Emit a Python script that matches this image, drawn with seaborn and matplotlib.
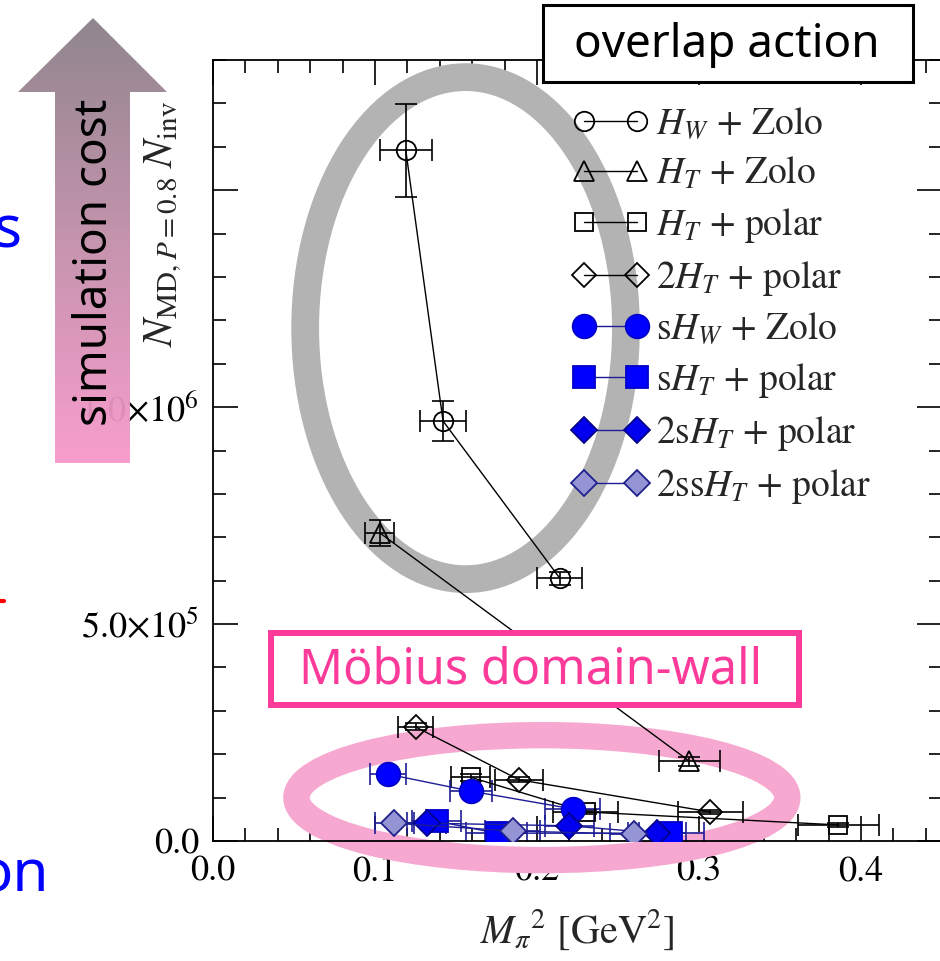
import matplotlib
matplotlib.use("Agg")
import matplotlib.pyplot as plt
import numpy as np, pandas as pd
import seaborn as sns
from matplotlib.patches import Ellipse, Rectangle, Polygon
from matplotlib.colors import LinearSegmentedColormap

# --- data (x = M_pi^2 [GeV^2], y = N_MD * N_inv) ---
hw_zolo_x = [0.119, 0.142, 0.214]
hw_zolo_y = [1.592e6, 0.968e6, 0.606e6]
hw_zolo_xerr = [0.016, 0.014, 0.014]
hw_zolo_yerr = [1.07e5, 4.7e4, 1.5e4]

ht_zolo_x = [0.103, 0.294]
ht_zolo_y = [7.10e5, 1.84e5]
ht_zolo_xerr = [0.009, 0.019]
ht_zolo_yerr = [3.0e4, 1.0e4]

ht_polar_x = [0.159, 0.230, 0.386]
ht_polar_y = [1.47e5, 6.7e4, 3.7e4]
ht_polar_xerr = [0.012, 0.020, 0.025]
ht_polar_yerr = [8e3, 5e3, 4e3]

h2t_polar_x = [0.125, 0.189, 0.307]
h2t_polar_y = [2.63e5, 1.41e5, 6.7e4]
h2t_polar_xerr = [0.011, 0.015, 0.020]
h2t_polar_yerr = [8e3, 6e3, 5e3]

shw_zolo_x = [0.108, 0.159, 0.222]
shw_zolo_y = [1.54e5, 1.15e5, 7.4e4]
shw_zolo_xerr = [0.011, 0.013, 0.017]
shw_zolo_yerr = [6e3, 5e3, 4e3]

sht_polar_x = [0.138, 0.175, 0.283]
sht_polar_y = [4.6e4, 1.8e4, 1.8e4]
sht_polar_xerr = [0.015, 0.019, 0.020]
sht_polar_yerr = [3e3, 2e3, 2e3]

s2ht_polar_x = [0.132, 0.220, 0.274]
s2ht_polar_y = [4.1e4, 3.5e4, 1.8e4]
s2ht_polar_xerr = [0.012, 0.015, 0.018]
s2ht_polar_yerr = [3e3, 3e3, 2e3]

ss2ht_polar_x = [0.112, 0.185, 0.260]
ss2ht_polar_y = [4.1e4, 2.3e4, 1.6e4]
ss2ht_polar_xerr = [0.012, 0.017, 0.015]
ss2ht_polar_yerr = [3e3, 2e3, 2e3]

labels = [r"$H_W$ + Zolo", r"$H_T$ + Zolo", r"$H_T$ + polar", r"2$H_T$ + polar",
          r"s$H_W$ + Zolo", r"s$H_T$ + polar", r"2s$H_T$ + polar", r"2ss$H_T$ + polar"]

xticks = [0.0, 0.1, 0.2, 0.3, 0.4]
xticklabels = ["0.0", "0.1", "0.2", "0.3", "0.4"]
yticks = [0.0, 5e5, 1e6, 1.5e6]
yticklabels = ["0.0", r"$5.0{\times}10^5$", r"$1.0{\times}10^6$", ""]

series = [
    (hw_zolo_x, hw_zolo_y, hw_zolo_xerr, hw_zolo_yerr),
    (ht_zolo_x, ht_zolo_y, ht_zolo_xerr, ht_zolo_yerr),
    (ht_polar_x, ht_polar_y, ht_polar_xerr, ht_polar_yerr),
    (h2t_polar_x, h2t_polar_y, h2t_polar_xerr, h2t_polar_yerr),
    (shw_zolo_x, shw_zolo_y, shw_zolo_xerr, shw_zolo_yerr),
    (sht_polar_x, sht_polar_y, sht_polar_xerr, sht_polar_yerr),
    (s2ht_polar_x, s2ht_polar_y, s2ht_polar_xerr, s2ht_polar_yerr),
    (ss2ht_polar_x, ss2ht_polar_y, ss2ht_polar_xerr, ss2ht_polar_yerr),
]

navy = "#1c1c96"
styles = [
    dict(marker="o", ms=14, mfc="none", mec="k", color="k"),
    dict(marker="^", ms=14, mfc="none", mec="k", color="k"),
    dict(marker="s", ms=13, mfc="none", mec="k", color="k"),
    dict(marker="D", ms=12, mfc="none", mec="k", color="k"),
    dict(marker="o", ms=17, mfc="#0000ff", mec="#0000c8", color=navy),
    dict(marker="s", ms=16, mfc="#0000ff", mec="#0000c8", color=navy),
    dict(marker="D", ms=13, mfc="#0000ee", mec="#00008c", color=navy),
    dict(marker="D", ms=13, mfc="#9494d4", mec="#20208c", color=navy),
]

sns.set_style("ticks")
plt.rcParams["font.family"] = ["STIXGeneral", "DejaVu Sans"]
plt.rcParams["mathtext.fontset"] = "stix"

fig = plt.figure(figsize=(9.4, 9.61), dpi=100)
ax = fig.add_axes([213 / 940, 120 / 961, 729 / 940, 781 / 961])
ax.patch.set_alpha(0)

for (x, y, xe, ye), st, lab in zip(series, styles, labels):
    ax.errorbar(x, y, xerr=xe, yerr=ye, fmt="none", ecolor=st["color"],
                elinewidth=1.2, capsize=8, capthick=1.2, zorder=2)
    sns.lineplot(x=x, y=y, ax=ax, sort=False, errorbar=None, color=st["color"],
                 lw=1.0, marker=st["marker"], markersize=st["ms"],
                 markerfacecolor=st["mfc"], markeredgecolor=st["mec"],
                 markeredgewidth=1.3, label=lab, zorder=3)

# highlight rings
ax.add_patch(Ellipse((0.1559, 1.182e6), 0.198, 1.157e6, fill=False,
                     ec="#b3b3b3", lw=20, zorder=1.5, clip_on=False))
ax.add_patch(Ellipse((0.203, 1.0e5), 0.303, 2.88e5, fill=False,
                     ec="#f7a8d0", lw=19, zorder=1.5, clip_on=False))

ax.set_xlim(0, 0.45)
ax.set_ylim(0, 1.8e6)
ax.set_xticks(xticks, xticklabels)
ax.set_yticks(yticks, yticklabels)
ax.set_xticks(np.arange(0, 0.451, 0.02), minor=True)
ax.set_yticks(np.arange(0, 1.8e6 + 1, 1e5), minor=True)
ax.tick_params(which="both", direction="in", top=True, right=True,
               width=1.2, labelsize=26, colors="k")
ax.tick_params(which="major", length=18, pad=10)
ax.tick_params(which="minor", length=9.5)
for s in ax.spines.values():
    s.set_linewidth(1.3)
    s.set_color("k")

ax.set_xlabel(r"$M_{\pi}{}^{2}$ [GeV$^{2}$]", fontsize=29, labelpad=14)
ax.set_ylabel(r"$N_{\mathrm{MD},P=0.8}\;N_{\mathrm{inv}}$", fontsize=30)
ax.yaxis.set_label_coords(-0.04, 0.79)

handles, labs = ax.get_legend_handles_labels()
ax.legend(handles, labs, loc="upper left", bbox_to_anchor=(0.494, 0.94),
          frameon=False, fontsize=27, numpoints=2, handlelength=2.0,
          handletextpad=0.2, borderpad=0, borderaxespad=0, labelspacing=0.37)

# slide overlay (pixel coordinates)
ov = fig.add_axes([0, 0, 1, 1], zorder=10)
ov.set_xlim(0, 940)
ov.set_ylim(961, 0)
ov.axis("off")
ov.patch.set_alpha(0)

arrow = Polygon([(93, 18), (167, 92), (130, 92), (130, 463), (55, 463),
                 (55, 92), (18, 92)], closed=True, fc="none", ec="none")
ov.add_patch(arrow)
grad = np.linspace(0, 1, 256).reshape(-1, 1)
cmap = LinearSegmentedColormap.from_list("cost", ["#8a8088", "#c28ea9", "#f899cb"])
im = ov.imshow(grad, extent=[18, 167, 463, 18], cmap=cmap, aspect="auto",
               alpha=0.95, zorder=1)
im.set_clip_path(arrow)
ov.set_xlim(0, 940)
ov.set_ylim(961, 0)
ov.text(95, 262, "simulation cost", rotation=90, ha="center", va="center",
        fontsize=33, family="Noto Sans", fontweight="semibold", color="k", zorder=2)

ov.add_patch(Rectangle((543, 5), 370, 77, fc="white", ec="k", lw=2.2, zorder=3))
ov.text(727, 45, "overlap action", ha="center", va="center", fontsize=33,
        family="Noto Sans", color="k", zorder=4)

ov.add_patch(Rectangle((271, 633), 528, 72, fc="white", ec="#fb3a9a", lw=4.3, zorder=3))
ov.text(531, 670, "Möbius domain-wall", ha="center", va="center", fontsize=35,
        family="Noto Sans", color="#fb3a9a", zorder=4)

ov.text(22, 232, "s", ha="right", va="center", fontsize=42, family="Noto Sans",
        color="#0000ff")
ov.text(49, 876, "on", ha="right", va="center", fontsize=42, family="Noto Sans",
        color="#0000ff")
ov.plot([0, 4], [601, 601], color="red", lw=3)

fig.savefig("out.png", dpi=100)
